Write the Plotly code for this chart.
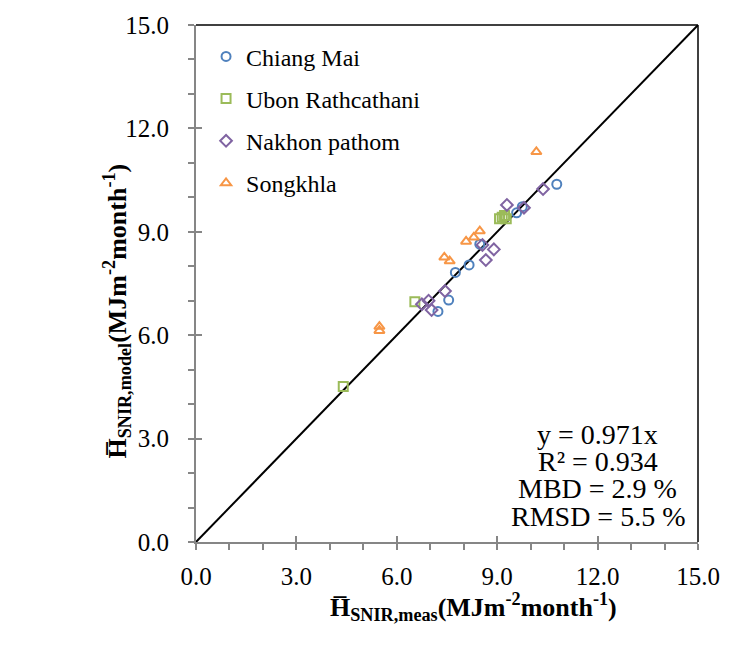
import plotly.graph_objects as go

# ---- data ----
chiang_x = [7.23, 7.55, 7.75, 8.16, 8.48, 9.58, 9.75, 10.78]
chiang_y = [6.69, 7.02, 7.82, 8.04, 8.64, 9.55, 9.73, 10.38]

ubon_x = [4.40, 6.54, 9.07, 9.22, 9.27, 9.15]
ubon_y = [4.51, 6.97, 9.38, 9.47, 9.38, 9.42]

nakhon_x = [6.75, 6.95, 7.04, 7.44, 8.66, 8.90, 8.56, 9.29, 9.80, 10.37]
nakhon_y = [6.90, 7.00, 6.73, 7.28, 8.18, 8.49, 8.62, 9.78, 9.70, 10.24]

songkhla_x = [5.48, 5.48, 7.42, 7.58, 8.07, 8.30, 8.48, 10.17]
songkhla_y = [6.25, 6.13, 8.26, 8.15, 8.72, 8.84, 9.02, 11.32]

line_x = [0, 15]
line_y = [0, 15]

tick_vals = [0, 3, 6, 9, 12, 15]
tick_text = ["0.0", "3.0", "6.0", "9.0", "12.0", "15.0"]

stats_text = ["y = 0.971x", "R² = 0.934", "MBD = 2.9 %", "RMSD = 5.5 %"]

x_title = "<b>H̅<sub>SNIR,meas</sub>(MJm<sup>-2</sup>month<sup>-1</sup>)</b>"
y_title = "<b>H̅<sub>SNIR,model</sub>(MJm<sup>-2</sup>month<sup>-1</sup>)</b>"

FONT = "Liberation Serif"
GRAY = "#868686"

fig = go.Figure()

series = [
    ("Chiang Mai", chiang_x, chiang_y, "circle-open", "#4F81BD"),
    ("Ubon Rathcathani", ubon_x, ubon_y, "square-open", "#9BBB59"),
    ("Nakhon pathom", nakhon_x, nakhon_y, "diamond-open", "#8064A2"),
    ("Songkhla", songkhla_x, songkhla_y, "triangle-up-open", "#F79646"),
]

fig.add_trace(go.Scatter(x=line_x, y=line_y, mode="lines",
                         line=dict(color="black", width=2), showlegend=False,
                         hoverinfo="skip"))

for i, (name, xs, ys, sym, col) in enumerate(series):
    fig.add_trace(go.Scatter(
        x=xs, y=ys, mode="markers", name=name, legendgroup=f"g{i}",
        marker=dict(symbol=sym, size=9, color=col, line=dict(color=col, width=2)),
    ))

# helper trace for overlay axes (inside halves of crossing major ticks)
fig.add_trace(go.Scatter(x=[None], y=[None], xaxis="x2", yaxis="y2",
                         showlegend=False, hoverinfo="skip"))

axis_common = dict(
    range=[0, 15], tickmode="array", tickvals=tick_vals, ticktext=tick_text,
    showgrid=False, zeroline=False, showline=True, linecolor=GRAY, linewidth=2,
    ticks="outside", ticklen=6, tickwidth=1.5, tickcolor=GRAY,
    minor=dict(dtick=1, ticks="outside", ticklen=6, tickwidth=1.5, tickcolor=GRAY),
    tickfont=dict(family=FONT, size=25, color="black"),
)

annotations = [
    dict(xref="paper", yref="paper", x=0.553, y=-0.126, xanchor="center",
         yanchor="middle", showarrow=False, text=x_title,
         font=dict(family=FONT, size=26, color="black")),
    dict(xref="paper", yref="paper", x=-0.158, y=0.447, xanchor="center",
         yanchor="middle", showarrow=False, text=y_title, textangle=-90,
         font=dict(family=FONT, size=26, color="black")),
]
stats_y = [0.207, 0.155, 0.103, 0.050]
for txt, yy in zip(stats_text, stats_y):
    annotations.append(dict(xref="x domain", yref="y domain", x=0.80, y=yy,
                            xanchor="center", yanchor="middle", showarrow=False,
                            text=txt, font=dict(family=FONT, size=28, color="black")))

fig.update_layout(
    width=732, height=648,
    margin=dict(l=196, r=25, t=25, b=106),
    plot_bgcolor="white", paper_bgcolor="white",
    font=dict(family=FONT, color="black", size=24),
    xaxis=dict(**axis_common, ticklabelstandoff=5),
    yaxis=dict(**axis_common, ticklabelstandoff=14),
    xaxis2=dict(range=[0, 15], overlaying="x", side="bottom", tickmode="array",
                tickvals=tick_vals, showticklabels=False, ticks="inside", ticklen=6,
                tickwidth=1.5, tickcolor=GRAY, showgrid=False, zeroline=False, showline=False),
    yaxis2=dict(range=[0, 15], overlaying="y", side="left", tickmode="array",
                tickvals=tick_vals, showticklabels=False, ticks="inside", ticklen=6,
                tickwidth=1.5, tickcolor=GRAY, showgrid=False, zeroline=False, showline=False),
    legend=dict(x=0.02, y=0.982, xanchor="left", yanchor="top",
                bgcolor="rgba(0,0,0,0)", tracegroupgap=8,
                font=dict(family=FONT, size=24, color="black"), itemwidth=30),
    showlegend=True,
    shapes=[
        dict(type="line", xref="x domain", yref="y domain", x0=0, x1=1, y0=1, y1=1,
             line=dict(color="black", width=1.5)),
        dict(type="line", xref="x domain", yref="y domain", x0=1, x1=1, y0=0, y1=1,
             line=dict(color="black", width=1.5)),
    ],
    annotations=annotations,
)

fig.write_html("out.html")
